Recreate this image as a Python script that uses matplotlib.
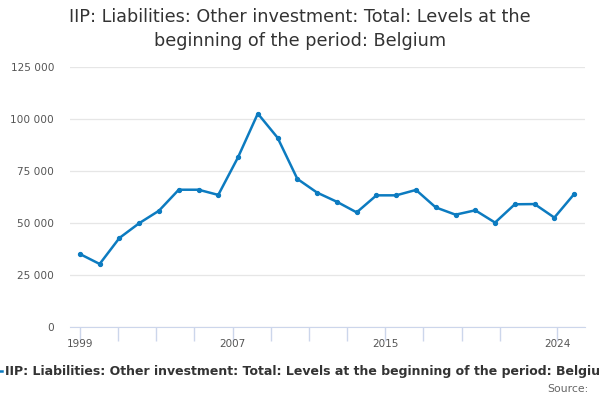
import numpy as np
import matplotlib
matplotlib.use("Agg")
import matplotlib.pyplot as plt
from matplotlib.ticker import FuncFormatter

years = list(range(1999, 2025))
values = [35100, 30300, 42800, 49900, 55900, 66000, 66000, 63500, 81600, 102600,
          91000, 71200, 64600, 60200, 55100, 63300, 63300, 65900, 57500, 54000,
          56100, 50200, 59000, 59100, 52600, 63900]
label_years = [1999, 2007, 2015, 2024]
tick_years = list(range(1999, 2022, 2)) + [2024]

# axis labels sit slightly tighter than the points in the reference
scale = 19.08 / 19.76

def axpos(y):
    return (y - 1999) * scale

title = "IIP: Liabilities: Other investment: Total: Levels at the\nbeginning of the period: Belgium"
legend_txt = "IIP: Liabilities: Other investment: Total: Levels at the beginning of the period: Belgium"

fig = plt.figure(figsize=(6, 4), dpi=100)
ax = fig.add_axes([70/600, 1 - 327/400, (585-70)/600, (327-67)/400])

x = np.arange(len(years))
ax.plot(x, values, color="#0c7bc0", lw=1.8, marker="o", ms=2.8, zorder=3)

ax.set_ylim(0, 125000)
ax.set_xlim(-0.5, 25.55)
ax.set_yticks(np.arange(0, 125001, 25000))
ax.yaxis.set_major_formatter(FuncFormatter(lambda v, p: f"{int(v):,}".replace(",", " ")))
ax.grid(axis="y", color="#e6e6e6", lw=0.9)
ax.set_axisbelow(True)

ax.set_xticks([axpos(y) for y in tick_years])
ax.set_xticklabels([str(y) if y in label_years else "" for y in tick_years])
ax.tick_params(axis="x", length=10, color="#ccd6eb", width=1, labelsize=7.5,
               labelcolor="#555555", pad=-1.5)
ax.tick_params(axis="y", length=0, labelsize=7.6, labelcolor="#555555", pad=11.5)

for s in ["top", "right", "left"]:
    ax.spines[s].set_visible(False)
ax.spines["bottom"].set_color("#ccd6eb")

fig.text(0.5, 1 - 29/400, title, ha="center", va="center", fontsize=12.7,
         color="#333333", linespacing=1.38)
# legend runs past both edges in the reference too
fig.text(309/600, 1 - 371/400, legend_txt, ha="center", va="center", fontsize=9,
         fontweight="bold", color="#333333")
fig.add_artist(plt.Line2D([0, 2/600], [1 - 371/400, 1 - 371/400], color="#0c7bc0", lw=1.8,
                          transform=fig.transFigure))
fig.text(589/600, 1 - 389/400, "Source:", ha="right", va="center", fontsize=7.8,
         color="#666666")

fig.savefig("out.png", dpi=100)
